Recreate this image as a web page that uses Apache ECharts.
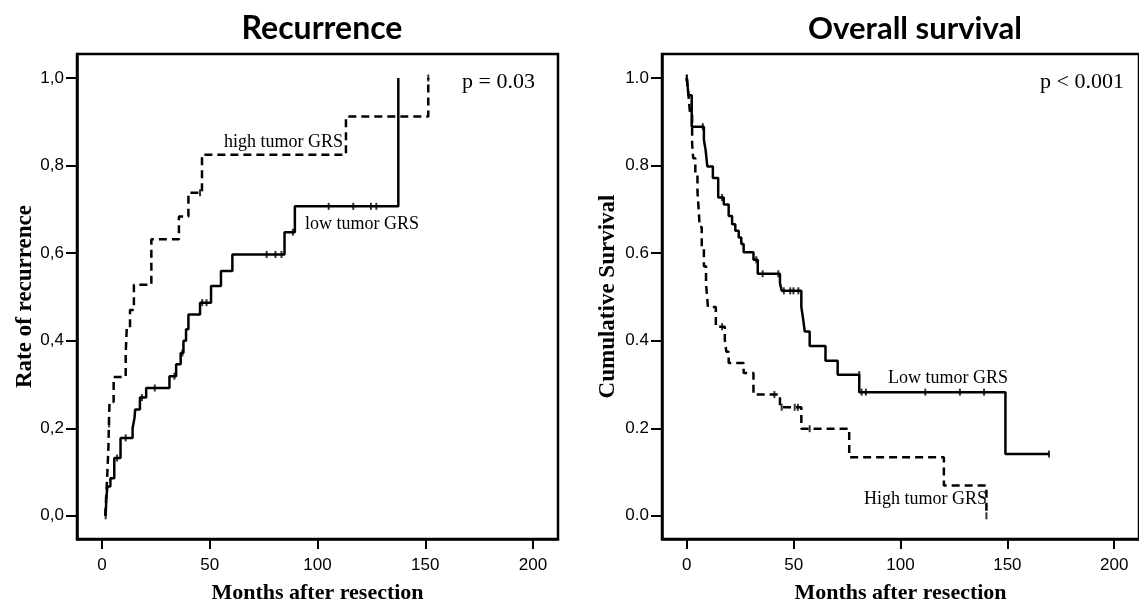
<!DOCTYPE html>
<html><head><meta charset="utf-8">
<script src="https://cdn.jsdelivr.net/npm/echarts@6/dist/echarts.min.js"></script>
<style>html,body{margin:0;padding:0;background:#fff}#c{width:1139px;height:609px}</style>
</head><body><div id="c"></div><script>
// ---- tick labels ----
const xTicks = [0, 50, 100, 150, 200];
const yTicks = [0, 0.2, 0.4, 0.6, 0.8, 1.0];

// ---- Recurrence: high tumor GRS (dashed) ----
const recHighTime = [1.5, 2, 2.5, 3, 3.2, 3.5, 5.4, 11, 11.5, 13, 14.8, 22.9, 35.7, 40.1, 46.4, 113.2, 151.4];
const recHighRate = [0, 0.05, 0.10, 0.16, 0.21, 0.26, 0.317, 0.37, 0.43, 0.47, 0.528, 0.632, 0.684, 0.738, 0.825, 0.912, 1.0];
const recHighCensTime = [3.3, 45.5, 151.4];
const recHighCensRate = [0.21, 0.738, 1.0];

// ---- Recurrence: low tumor GRS (solid) ----
const recLowTime = [1.7, 2, 2.5, 3.9, 5.7, 8.6, 14.2, 15.1, 15.4, 17.6, 20.5, 31.3, 34.4, 36.5, 37.8, 39, 40.1, 45.5, 50.6, 55.2, 60.5, 84.7, 89.5, 137.5];
const recLowRate = [0, 0.038, 0.067, 0.086, 0.132, 0.178, 0.20, 0.224, 0.243, 0.27, 0.292, 0.319, 0.346, 0.372, 0.40, 0.426, 0.46, 0.487, 0.525, 0.559, 0.597, 0.648, 0.707, 1.0];
const recLowCensTime = [1.7, 7, 11, 18.5, 24.5, 33.6, 37.3, 46.5, 48.5, 76.4, 80.5, 83.3, 88.6, 105.2, 116.6, 124.8, 127.3];
const recLowCensRate = [0, 0.132, 0.178, 0.27, 0.292, 0.319, 0.372, 0.487, 0.487, 0.597, 0.597, 0.597, 0.648, 0.707, 0.707, 0.707, 0.707];

// ---- Overall survival: low tumor GRS (solid) ----
const osLowTime = [0, 0.8, 2.3, 8.0, 8.8, 9.6, 12.2, 14.7, 17.3, 19.6, 21.2, 22.7, 24.3, 25.5, 26.6, 31.2, 33.2, 43.6, 44.4, 53.6, 54.4, 55.2, 57.5, 64.9, 70.6, 80.7, 149.1, 169.5];
const osLowSurv = [1.0, 0.961, 0.889, 0.859, 0.836, 0.798, 0.772, 0.727, 0.711, 0.685, 0.666, 0.651, 0.636, 0.621, 0.602, 0.585, 0.553, 0.532, 0.514, 0.477, 0.451, 0.421, 0.388, 0.354, 0.3225, 0.2825, 0.141, 0.141];
const osLowCensTime = [0, 7.5, 16.5, 32.5, 35.5, 42.8, 45.4, 48.4, 49.9, 52.2, 80.7, 81.8, 83.8, 111.6, 127.8, 139.1, 169.5];
const osLowCensSurv = [1.0, 0.889, 0.727, 0.585, 0.553, 0.553, 0.514, 0.514, 0.514, 0.514, 0.3225, 0.2825, 0.2825, 0.2825, 0.2825, 0.2825, 0.141];

// ---- Overall survival: high tumor GRS (dashed) ----
const osHighTime = [0, 0.8, 1.5, 2.5, 3, 4, 5, 5.7, 6, 7, 8, 9, 9.9, 13.6, 17.8, 18.5, 19.6, 26.6, 31.2, 43.6, 53.6, 76, 120.3, 140.2];
const osHighSurv = [1.0, 0.96, 0.92, 0.85, 0.817, 0.78, 0.74, 0.69, 0.66, 0.61, 0.57, 0.53, 0.477, 0.432, 0.402, 0.375, 0.349, 0.326, 0.277, 0.248, 0.199, 0.134, 0.069, 0.0];
const osHighCensTime = [0, 16.5, 41, 44.4, 50.5, 52, 57.5, 140.2];
const osHighCensSurv = [1.0, 0.432, 0.277, 0.248, 0.248, 0.248, 0.199, 0.0];

const zip = (a, b) => a.map((t, i) => [t, b[i]]);
const BLACK = '#000';
const serif = '"Liberation Serif", "DejaVu Serif", serif';
const sans = '"Liberation Sans", Arial, sans-serif';

function xAxisDef(gi) {
  return {
    type: 'value', gridIndex: gi, min: -11.6, max: 211.6,
    name: 'Months after resection', nameLocation: 'middle', nameGap: 43,
    nameTextStyle: { fontFamily: serif, fontWeight: 'bold', fontSize: 22, color: BLACK },
    axisLine: { show: true, onZero: false, lineStyle: { color: BLACK, width: 2.5 } },
    axisTick: { show: true, inside: false, length: 10, customValues: xTicks, lineStyle: { color: BLACK, width: 2 } },
    axisLabel: { customValues: xTicks, margin: 18, fontFamily: sans, fontSize: 17, color: BLACK },
    splitLine: { show: false }
  };
}
function yAxisDef(gi, name, comma, gap) {
  return {
    type: 'value', gridIndex: gi, min: -0.053, max: 1.055,
    name: name, nameLocation: 'middle', nameGap: gap,
    nameTextStyle: { fontFamily: serif, fontWeight: 'bold', fontSize: 23, color: BLACK },
    axisLine: { show: true, onZero: false, lineStyle: { color: BLACK, width: 2.5 } },
    axisTick: { show: true, inside: false, length: 11, customValues: yTicks, lineStyle: { color: BLACK, width: 2 } },
    axisLabel: { customValues: yTicks, margin: 13, fontFamily: sans, fontSize: 17, color: BLACK,
      formatter: v => comma ? v.toFixed(1).replace('.', ',') : v.toFixed(1) },
    splitLine: { show: false }
  };
}
function curve(gi, data, dashed) {
  return { type: 'line', xAxisIndex: gi, yAxisIndex: gi, data: data, step: 'end', showSymbol: false,
    symbol: 'none', silent: true,
    lineStyle: { color: BLACK, width: 2.5, type: dashed ? [8, 5] : 'solid' } };
}
function cens(gi, data) {
  return { type: 'scatter', xAxisIndex: gi, yAxisIndex: gi, data: data, symbol: 'rect',
    symbolSize: [2, 7], itemStyle: { color: BLACK }, silent: true };
}

const chart = echarts.init(document.getElementById('c'), null, { renderer: 'canvas' });
chart.setOption({
  animation: false,
  backgroundColor: '#fff',
  title: [
    { text: 'Recurrence', left: 317, top: 8, textAlign: 'center',
      textStyle: { fontFamily: 'Lato, "Open Sans", sans-serif', fontWeight: 'bold', fontSize: 32, color: BLACK } },
    { text: 'Overall survival', left: 910, top: 8, textAlign: 'center',
      textStyle: { fontFamily: 'Lato, "Open Sans", sans-serif', fontWeight: 'bold', fontSize: 31, color: BLACK } }
  ],
  grid: [
    { left: 77, top: 54, width: 481, height: 486, show: true, borderColor: BLACK, borderWidth: 2.5, backgroundColor: '#fff' },
    { left: 662, top: 54, width: 483, height: 486, show: true, borderColor: BLACK, borderWidth: 2.5, backgroundColor: '#fff' }
  ],
  xAxis: [xAxisDef(0), xAxisDef(1)],
  yAxis: [yAxisDef(0, 'Rate of recurrence', true, 40), yAxisDef(1, 'Cumulative Survival', false, 42)],
  series: [
    curve(0, zip(recHighTime, recHighRate), true),
    curve(0, zip(recLowTime, recLowRate), false),
    cens(0, zip(recHighCensTime, recHighCensRate)),
    cens(0, zip(recLowCensTime, recLowCensRate)),
    curve(1, zip(osHighTime, osHighSurv), true),
    curve(1, zip(osLowTime, osLowSurv), false),
    cens(1, zip(osHighCensTime, osHighCensSurv)),
    cens(1, zip(osLowCensTime, osLowCensSurv))
  ],
  graphic: [
    { type: 'text', left: 224, top: 133, style: { text: 'high tumor GRS', font: '18px ' + serif, fill: BLACK } },
    { type: 'text', left: 305, top: 215, style: { text: 'low tumor GRS', font: '18px ' + serif, fill: BLACK } },
    { type: 'text', left: 462, top: 71, style: { text: 'p = 0.03', font: '22px ' + serif, fill: BLACK } },
    { type: 'text', left: 1040, top: 71, style: { text: 'p < 0.001', font: '22px ' + serif, fill: BLACK } },
    { type: 'text', left: 888, top: 369, style: { text: 'Low tumor GRS', font: '18px ' + serif, fill: BLACK } },
    { type: 'text', left: 864, top: 490, style: { text: 'High tumor GRS', font: '18px ' + serif, fill: BLACK } }
  ]
});
</script></body></html>
